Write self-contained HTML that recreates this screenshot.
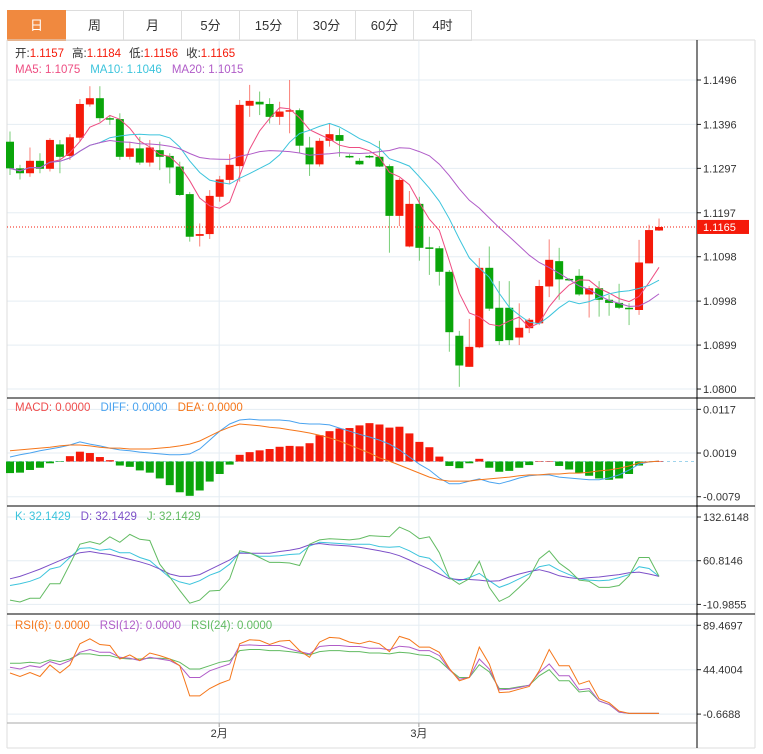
<!DOCTYPE html>
<html><head><meta charset="utf-8">
<style>
body{margin:0;background:#fff;width:763px;height:754px;overflow:hidden;font-family:"Liberation Sans","Noto Sans CJK SC",sans-serif;}
#tabs{position:absolute;left:7px;top:10px;height:30px;display:flex;}
.tab{width:57px;height:29px;border:1px solid #ddd;border-left:none;line-height:29px;text-align:center;font-size:13px;color:#333;box-sizing:content-box;}
.tab:first-child{border-left:1px solid #ddd;background:#f0893f;color:#fff;border-color:#f0893f;}
svg{position:absolute;left:0;top:0;}
</style></head><body>
<div id="tabs">
<div class="tab">日</div>
<div class="tab">周</div>
<div class="tab">月</div>
<div class="tab">5分</div>
<div class="tab">15分</div>
<div class="tab">30分</div>
<div class="tab">60分</div>
<div class="tab">4时</div>
</div>
<svg id="c" width="763" height="754" font-family="Liberation Sans, Noto Sans CJK SC, sans-serif"></svg>
<script>
const opens=[1.1357,1.1297,1.1286,1.1314,1.1296,1.1351,1.1325,1.1366,1.1441,1.1455,1.1410,1.1408,1.1323,1.1342,1.1310,1.1338,1.1325,1.1301,1.1239,1.1145,1.1149,1.1233,1.1271,1.1302,1.1438,1.1447,1.1442,1.1413,1.1425,1.1428,1.1344,1.1306,1.1359,1.1372,1.1325,1.1314,1.1325,1.1323,1.1302,1.1190,1.1121,1.1217,1.1119,1.1117,1.1064,1.0920,1.0850,1.0894,1.1073,1.0983,1.0983,1.0916,1.0937,1.0948,1.1031,1.1088,1.1048,1.1055,1.1013,1.1027,1.1001,1.0994,1.0983,1.0978,1.1083,1.1157];
const highs=[1.1380,1.1305,1.1344,1.1331,1.1365,1.1361,1.1374,1.1453,1.1482,1.1482,1.1417,1.1421,1.1357,1.1368,1.1361,1.1357,1.1331,1.1312,1.1244,1.1173,1.1248,1.1280,1.1329,1.1451,1.1485,1.1470,1.1455,1.1447,1.1496,1.1432,1.1368,1.1365,1.1398,1.1387,1.1329,1.1320,1.1327,1.1359,1.1306,1.1275,1.1246,1.1233,1.1143,1.1122,1.1068,1.0931,1.0958,1.1095,1.1121,1.1043,1.1043,1.0993,1.0960,1.1046,1.1137,1.1118,1.1050,1.1070,1.1032,1.1043,1.1012,1.1037,1.0993,1.1136,1.1170,1.1184];
const lows=[1.1282,1.1272,1.1278,1.1286,1.1290,1.1286,1.1316,1.1357,1.1436,1.1402,1.1395,1.1316,1.1317,1.1305,1.1301,1.1293,1.1263,1.1235,1.1132,1.1121,1.1138,1.1222,1.1263,1.1267,1.1413,1.1417,1.1398,1.1395,1.1376,1.1331,1.1280,1.1301,1.1346,1.1323,1.1320,1.1305,1.1320,1.1300,1.1107,1.1167,1.1119,1.1089,1.1057,1.1033,1.0884,1.0805,1.0850,1.0892,1.0976,1.0899,1.0899,1.0899,1.0926,1.0944,1.1007,1.1001,1.1043,1.1010,1.0961,1.0963,1.0965,1.0980,1.0944,1.0967,1.1083,1.1156];
const closes=[1.1297,1.1286,1.1314,1.1296,1.1361,1.1323,1.1367,1.1442,1.1455,1.1410,1.1407,1.1323,1.1342,1.1310,1.1344,1.1323,1.1299,1.1237,1.1143,1.1149,1.1235,1.1272,1.1305,1.1440,1.1449,1.1441,1.1413,1.1425,1.1428,1.1348,1.1306,1.1359,1.1374,1.1359,1.1322,1.1306,1.1322,1.1301,1.1190,1.1271,1.1217,1.1118,1.1116,1.1064,1.0928,1.0853,1.0895,1.1073,1.0981,1.0908,1.0910,1.0938,1.0956,1.1032,1.1091,1.1047,1.1046,1.1013,1.1027,1.1001,1.0994,1.0983,1.0980,1.1085,1.1158,1.1165];
const macdPips=[-26,-25,-19,-14,-4,-1,12,22,19,10,3,-9,-12,-20,-25,-38,-53,-69,-77,-65,-45,-28,-7,15,21,25,28,33,35,34,41,59,68,74,75,81,86,83,76,78,63,44,32,11,-10,-15,-4,6,-14,-23,-21,-14,-8,0,0,-10,-18,-26,-32,-38,-41,-38,-28,-9,0,0];
const diffPips=[10,15,19,24,28,32,37,44,39,35,30,26,24,21,19,17,15,15,17,28,48,68,84,93,95,93,93,93,91,86,84,84,82,75,68,61,55,48,39,26,10,-6,-19,-37,-50,-50,-44,-39,-46,-50,-44,-37,-32,-30,-30,-35,-37,-39,-41,-41,-37,-30,-19,-6,-1,1];
const deaPips=[24,26,28,30,32,35,37,37,35,32,30,30,28,28,28,30,32,35,39,46,57,68,77,84,82,80,77,75,71,68,64,59,53,46,37,28,19,8,1,-8,-17,-26,-35,-41,-44,-44,-44,-41,-39,-37,-35,-32,-30,-30,-28,-28,-26,-26,-24,-21,-19,-15,-10,-3,-1,1];
const kVals=[20,23,27,33,47,51,66,81,82,78,80,74,74,66,61,47,33,26,22,28,37,43,55,74,73,68,68,69,71,72,85,91,90,89,88,88,88,84,83,84,77,68,65,50,33,28,33,40,28,17,23,31,39,51,54,45,38,31,29,28,29,33,38,51,48,35];
const dVals=[31,35,41,47,54,61,68,74,76,73,71,67,63,59,54,47,39,35,35,38,46,54,62,73,73,73,73,76,78,81,87,89,87,86,85,83,80,77,74,69,62,54,47,39,31,30,30,29,27,28,34,39,43,46,42,36,33,31,33,34,36,38,41,42,39,35];
const jVals=[-4,-7,-1,-1,23,23,55,88,92,88,100,91,104,96,94,55,34,12,-9,-4,11,12,31,77,74,66,58,58,57,53,88,95,97,96,95,97,102,101,100,116,109,97,100,74,33,22,31,60,17,-6,2,17,33,64,77,57,45,29,27,17,17,20,36,66,66,35];
const rsi6=[41,37.5,41.6,37.5,49.2,41,49.2,70.7,75.8,70,69,55.3,59.4,53.6,61.4,58.7,55.3,48.5,17.8,17.8,25.3,30.4,34.1,70.7,74.8,74.1,70,73.4,74.1,63.8,57,72.4,77.2,76.5,72.4,70.7,73.4,70.7,62.8,78.2,75.1,67.3,67.3,62.1,45.7,33.1,36.5,67.3,50.2,21.2,21.8,24.6,27.3,43.3,64.9,48.5,48.5,29.7,33.1,15,10.9,2.4,0,0,0,0];
const rsi12=[46.8,45.1,48.5,46.8,52.6,49.5,53.6,62.1,64.9,62.1,62.1,57,56,53.6,57,55.3,53.6,48.5,36.5,36.5,43.3,46.8,50.2,69,69.6,69,69,69,65.5,62.8,60.4,67.9,69,69,67.9,67.9,66.2,66.2,64.5,68.3,67.3,63.8,63.8,58.7,44.4,34.8,36.5,55.3,45.1,23.9,24.6,26.3,28.7,41.6,50.2,38.2,38.2,23.9,25.3,12.6,9.2,1.4,0,0,0,0];
const rsi24=[50.9,50.9,51.9,50.9,54.3,52.6,55.3,60.4,60.4,58.7,58.7,56,55.3,55.3,56,56,55.3,51.9,45.1,45.1,48.5,51.9,53.6,63.8,64.9,64.9,63.8,63.8,62.8,61.4,59.4,62.8,63.8,63.8,62.8,62.8,61.4,61.4,60.4,62.1,61.4,59.4,58.7,53.6,44.4,36.5,36.5,49.5,42.3,25.3,25.3,27,28.7,38.2,44.4,33.1,33.1,21.8,22.9,12.6,9.2,1.4,0,0,0,0];
const priceTicks=[1.1496,1.1396,1.1297,1.1197,1.1098,1.0998,1.0899,1.0800];
const macdTicks=["0.0117","0.0019","-0.0079"];
const kdjTicks=["132.6148","60.8146","-10.9855"];
const rsiTicks=["89.4697","44.4004","-0.6688"];
const monthLabels=["2月","3月"];
const monthIndex=[21,41];

const S=document.getElementById('c');const NS='http://www.w3.org/2000/svg';
function el(t,a,p){const e=document.createElementNS(NS,t);for(const k in a)e.setAttribute(k,a[k]);(p||S).appendChild(e);return e;}
const xOf=i=>10+i*9.985;
const yP=p=>80+(1.1496-p)*4440;
const yM=v=>461.5-v*4459;
const yK=v=>517+(132.6148-v)*0.6086;
const yR=v=>625.3+(89.4697-v)*0.9851;
const L=7,R=697;
// grids
function hgrid(y,name){const g=el('line',{x1:L,x2:R,y1:y,y2:y,stroke:'#e5edf3','stroke-width':1});}
function tick(y,txt,name){const l=el('line',{x1:R,x2:R+4,y1:y,y2:y,stroke:'#222'});
const t=el('text',{x:R+6,y:y+4,'font-size':11,fill:'#333'});t.textContent=txt;}
priceTicks.forEach(p=>{hgrid(yP(p),'price-gridline');tick(yP(p),p.toFixed(4),'price-tick-label');});
macdTicks.forEach(v=>{hgrid(yM(+v),'macd-gridline');tick(yM(+v),v,'macd-tick-label');});
kdjTicks.forEach(v=>{hgrid(yK(+v),'kdj-gridline');tick(yK(+v),v,'kdj-tick-label');});
rsiTicks.forEach(v=>{hgrid(yR(+v),'rsi-gridline');tick(yR(+v),v,'rsi-tick-label');});
monthIndex.forEach((mi,k)=>{const x=xOf(mi)-0.5;const g=el('line',{x1:x,x2:x,y1:40,y2:723,stroke:'#e5edf3'});
const tk=el('line',{x1:x,x2:x,y1:723,y2:727,stroke:'#999'});
const t=el('text',{x:x,y:737,'font-size':11,fill:'#333','text-anchor':'middle'});t.textContent=monthLabels[k];});
// frame
[[L,40,L,748,'#ddd'],[L,748,755,748,'#ddd'],[755,40,755,748,'#ddd'],[L,40,755,40,'#ddd'],[L,398,755,398,'#000'],[L,506,755,506,'#000'],[L,614,755,614,'#000'],[L,723,697,723,'#aaa'],[R,40,R,748,'#000']].forEach(a=>{const l=el('line',{x1:a[0],y1:a[1],x2:a[2],y2:a[3],stroke:a[4],'stroke-width':1});});
// candles
const RED='#f51a0a',GRN='#0aa50a';
opens.forEach((o,i)=>{const c=closes[i];const up=c>=o;const col=up?RED:GRN;const x=xOf(i);
const w=el('line',{x1:x,x2:x,y1:yP(highs[i]),y2:yP(lows[i]),stroke:col,'stroke-opacity':0.55});
const t=Math.min(yP(o),yP(c)),h=Math.max(1.5,Math.abs(yP(o)-yP(c)));
const b=el('rect',{x:x-4,y:t,width:8,height:h,fill:col});});
function ma(n){return closes.map((_,i)=>{const s=Math.max(0,i-n+1);let t=0;for(let j=s;j<=i;j++)t+=closes[j];return t/(i-s+1);});}
function poly(vals,yf,col,name,from){const pts=vals.map((v,i)=>i>=(from||0)?xOf(i)+','+yf(v).toFixed(1):null).filter(Boolean).join(' ');const p=el('polyline',{points:pts,fill:'none',stroke:col,'stroke-width':1});}
poly(ma(5),yP,'#ee4d82','ma5-line',0);poly(ma(10),yP,'#3cc4dc','ma10-line',0);poly(ma(20),yP,'#b05cc8','ma20-line',0);
// last price
const ly=yP(closes[closes.length-1]);
const dl=el('line',{x1:L,x2:R,y1:ly,y2:ly,stroke:'#f51a0a','stroke-dasharray':'1,2'});
const lb=el('rect',{x:R,y:ly-7,width:52,height:14,fill:'#f51a0a'});
const lt=el('text',{x:R+6,y:ly+4,'font-size':11,fill:'#fff'});lt.textContent=closes[closes.length-1].toFixed(4);
// macd
const z=el('line',{x1:L,x2:R,y1:yM(0),y2:yM(0),stroke:'#9fd4ec','stroke-dasharray':'3,3'});
macdPips.forEach((v,i)=>{const val=v*0.0001;const y0=yM(0),y1=yM(val);const b=el('rect',{x:xOf(i)-4,y:Math.min(y0,y1),width:8,height:Math.max(0.5,Math.abs(y1-y0)),fill:v>=0?RED:GRN});});
poly(diffPips.map(v=>v*0.0001),yM,'#4aa3ef','diff-line');poly(deaPips.map(v=>v*0.0001),yM,'#f5761a','dea-line');
poly(kVals,yK,'#3cc4dc','k-line');poly(dVals,yK,'#7d50c8','d-line');poly(jVals,yK,'#62bb62','j-line');
poly(rsi24,yR,'#62bb62','rsi24-line');poly(rsi12,yR,'#b05cc8','rsi12-line');poly(rsi6,yR,'#f5761a','rsi6-line');
// legends
function legend(x,y,parts,name){const t=el('text',{x:x,y:y,'font-size':11.5});parts.forEach(p=>{const s=el('tspan',{fill:p[1]},t);if(p[2])s.setAttribute('dx',p[2]);s.textContent=p[0];});}
legend(15,57,[['开:','#333'],['1.1157','#f51a0a'],['高:','#333',8],['1.1184','#f51a0a'],['低:','#333',8],['1.1156','#f51a0a'],['收:','#333',8],['1.1165','#f51a0a']],'ohlc-legend');
legend(15,73,[['MA5: 1.1075','#ee4d82'],['MA10: 1.1046','#3cc4dc',10],['MA20: 1.1015','#b05cc8',10]],'ma-legend');
legend(15,411,[['MACD: 0.0000','#ee4d4d'],['DIFF: 0.0000','#4aa3ef',10],['DEA: 0.0000','#f5761a',10]],'macd-legend');
legend(15,520,[['K: 32.1429','#3cc4dc'],['D: 32.1429','#7d50c8',10],['J: 32.1429','#62bb62',10]],'kdj-legend');
legend(15,629,[['RSI(6): 0.0000','#f5761a'],['RSI(12): 0.0000','#b05cc8',10],['RSI(24): 0.0000','#62bb62',10]],'rsi-legend');
</script>
</body></html>
